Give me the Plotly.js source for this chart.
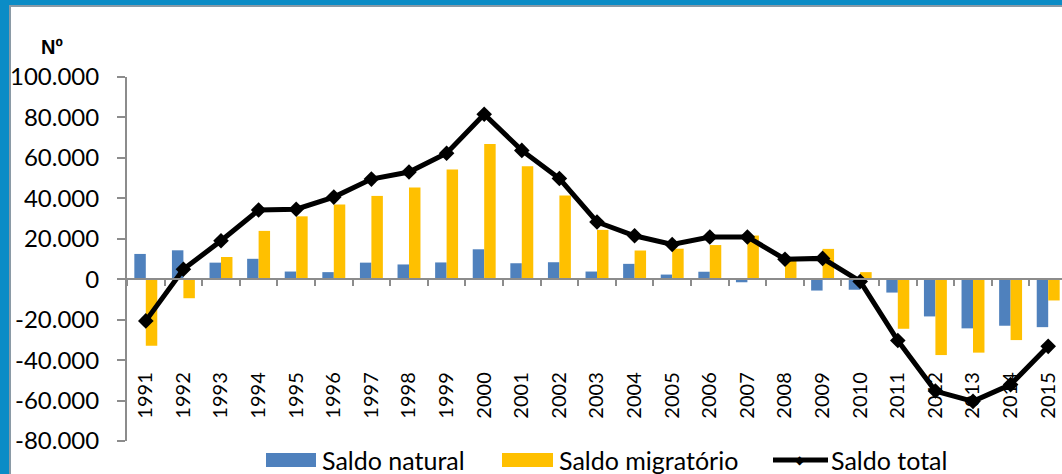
<!DOCTYPE html>
<html>
<head>
<meta charset="utf-8">
<script src="https://cdn.plot.ly/plotly-3.0.1.min.js"></script>
<style>
  html, body { margin: 0; padding: 0; width: 1062px; height: 474px; overflow: hidden; background: #0b8cc6; }
  #panel { position: absolute; left: 9px; top: 5px; width: 1060px; height: 480px; background: #ffffff;
           border-left: 2px solid #8a9aa6; border-top: 2px solid #8a9aa6; }
  #chart { position: absolute; left: 0; top: 0; width: 1067px; height: 474px; }
</style>
</head>
<body>
<div id="panel"></div>
<div id="chart"></div>
<script>
const years = ['1991','1992','1993','1994','1995','1996','1997','1998','1999','2000','2001','2002','2003',
               '2004','2005','2006','2007','2008','2009','2010','2011','2012','2013','2014','2015'];
const saldoNatural = [12500, 14300, 8200, 10100, 3800, 3500, 8200, 7300, 8300, 14800, 7900, 8400, 3800,
                      7600, 2300, 3700, -1500, 500, -5600, -5200, -6600, -18400, -24300, -23000, -23700];
const saldoMigratorio = [-32900, -9400, 11000, 23900, 31100, 36900, 41200, 45400, 54200, 66900, 55900, 41400, 24400,
                         14200, 15100, 16900, 21600, 9400, 15000, 3500, -24500, -37500, -36300, -30100, -10500];
const saldoTotal = [-20600, 4900, 19000, 34200, 34600, 40600, 49500, 53000, 62300, 81600, 63700, 49800, 28300,
                    21500, 17200, 20900, 20900, 9900, 10300, -1100, -30300, -55300, -60400, -52100, -33200];
const yTickVals = [-80000, -60000, -40000, -20000, 0, 20000, 40000, 60000, 80000, 100000];
const yTickText = ['-80.000', '-60.000', '-40.000', '-20.000', '0', '20.000', '40.000', '60.000', '80.000', '100.000'];
const seriesNames = ['Saldo natural', 'Saldo migratório', 'Saldo total'];
const unitLabel = 'Nº';

const colNatural = '#4F81BD', colMig = '#FFC000', colTotal = '#000000';

const L = 127, W = 940, T = 77, H = 364;
const px = x => (x - L) / W;
const py = y => (T + H - y) / H;

const traces = [
  { type: 'bar', x: years, y: saldoNatural, name: seriesNames[0], marker: { color: colNatural }, showlegend: false },
  { type: 'bar', x: years, y: saldoMigratorio, name: seriesNames[1], marker: { color: colMig }, showlegend: false },
  { type: 'scatter', mode: 'lines+markers', x: years, y: saldoTotal, name: seriesNames[2],
    line: { color: colTotal, width: 5 }, marker: { symbol: 'diamond', size: 12, color: colTotal }, showlegend: false }
];

const font = 'Lato, "Open Sans", sans-serif';
const legendY = 460;
const shapes = [
  { type: 'rect', xref: 'paper', yref: 'paper', x0: px(266), x1: px(316), y0: py(467), y1: py(453),
    fillcolor: colNatural, line: { width: 0 } },
  { type: 'rect', xref: 'paper', yref: 'paper', x0: px(502), x1: px(553), y0: py(467), y1: py(453),
    fillcolor: colMig, line: { width: 0 } },
  { type: 'line', xref: 'paper', yref: 'paper', x0: px(773), x1: px(828), y0: py(legendY), y1: py(legendY),
    line: { color: colTotal, width: 5 } }
];
const annotations = [
  { xref: 'paper', yref: 'paper', x: px(800), y: py(legendY), text: '◆', showarrow: false,
    font: { family: 'DejaVu Sans', size: 12, color: colTotal }, xanchor: 'center', yanchor: 'middle' },
  { xref: 'paper', yref: 'paper', x: px(320), y: py(legendY), text: seriesNames[0], showarrow: false,
    font: { family: font, size: 25, color: '#000' }, xanchor: 'left', yanchor: 'middle' },
  { xref: 'paper', yref: 'paper', x: px(557), y: py(legendY), text: seriesNames[1], showarrow: false,
    font: { family: font, size: 25, color: '#000' }, xanchor: 'left', yanchor: 'middle' },
  { xref: 'paper', yref: 'paper', x: px(829), y: py(legendY), text: seriesNames[2], showarrow: false,
    font: { family: font, size: 25, color: '#000' }, xanchor: 'left', yanchor: 'middle' },
  { xref: 'paper', yref: 'paper', x: px(39), y: py(47), text: '<b>' + unitLabel + '</b>', showarrow: false,
    font: { family: '"Liberation Sans", Arial, sans-serif', size: 20, color: '#000' }, xanchor: 'left', yanchor: 'middle' }
];

const layout = {
  width: 1067, height: 474,
  margin: { l: L, r: 1067 - L - W, t: T, b: 474 - T - H, pad: 0 },
  paper_bgcolor: 'rgba(0,0,0,0)', plot_bgcolor: 'rgba(0,0,0,0)',
  barmode: 'group', bargap: 0.39, bargroupgap: 0,
  showlegend: false,
  xaxis: {
    type: 'category', anchor: 'free', position: 80000 / 180000,
    range: [-0.5, years.length - 0.5], autorange: false,
    showline: true, linecolor: '#8c8c8c', linewidth: 2,
    ticks: 'outside', tickson: 'boundaries', ticklen: 6, tickcolor: '#8c8c8c', tickwidth: 2,
    tickangle: -90, tickfont: { family: font, size: 20, color: '#000' },
    ticklabelstandoff: 84, showgrid: false, zeroline: false, fixedrange: true
  },
  yaxis: {
    range: [-80000, 100000], autorange: false, tickvals: yTickVals, ticktext: yTickText,
    showline: true, linecolor: '#8c8c8c', linewidth: 2,
    ticks: 'outside', ticklen: 8, tickcolor: '#8c8c8c', tickwidth: 2,
    tickfont: { family: font, size: 24, color: '#000' },
    ticklabelstandoff: 13, showgrid: false, zeroline: false, fixedrange: true
  },
  shapes: shapes,
  annotations: annotations
};

Plotly.newPlot('chart', traces, layout, { displayModeBar: false, staticPlot: true });
</script>
</body>
</html>
